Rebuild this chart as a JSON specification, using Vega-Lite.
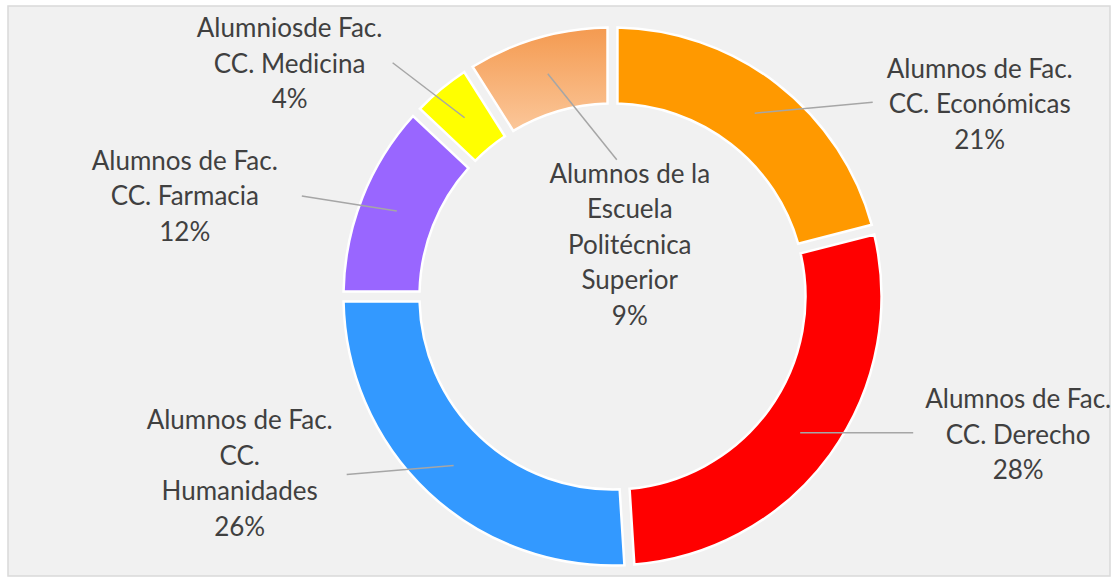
{
  "$schema": "https://vega.github.io/schema/vega-lite/v6.json",
  "width": 1102,
  "height": 570,
  "autosize": {"type": "none"},
  "padding": {"left": 8, "top": 6, "right": 7, "bottom": 2},
  "background": "white",
  "view": {"fill": "#f1f1f1", "stroke": "#d9d9d9", "strokeWidth": 1.5},
  "data": {
    "values": [
      {"orden": 1, "cat": "Alumnos de Fac. CC. Económicas", "pct": 21, "etiqueta": "Alumnos de Fac.\nCC. Económicas\n21%"},
      {"orden": 2, "cat": "Alumnos de Fac. CC. Derecho", "pct": 28, "etiqueta": "Alumnos de Fac.\nCC. Derecho\n28%"},
      {"orden": 3, "cat": "Alumnos de Fac. CC. Humanidades", "pct": 26, "etiqueta": "Alumnos de Fac.\nCC.\nHumanidades\n26%"},
      {"orden": 4, "cat": "Alumnos de Fac. CC. Farmacia", "pct": 12, "etiqueta": "Alumnos de Fac.\nCC. Farmacia\n12%"},
      {"orden": 5, "cat": "Alumniosde Fac. CC. Medicina", "pct": 4, "etiqueta": "Alumniosde Fac.\nCC. Medicina\n4%"},
      {"orden": 6, "cat": "Alumnos de la Escuela Politécnica Superior", "pct": 9, "etiqueta": "Alumnos de la\nEscuela\nPolitécnica\nSuperior\n9%"}
    ]
  },
  "layer": [
    {
      "mark": {
        "type": "arc",
        "innerRadius": 193,
        "outerRadius": 269,
        "padAngle": 0.03,
        "stroke": "white",
        "strokeWidth": 2.5,
        "x": {"expr": "width/2+53.5"},
        "y": {"expr": "height/2+5.5"}
      },
      "encoding": {
        "theta": {"field": "pct", "type": "quantitative", "stack": true},
        "order": {"field": "orden", "type": "quantitative"},
        "color": {
          "condition": {
            "test": "datum.orden == 6",
            "value": {"gradient": "linear", "x1": 0, "y1": 0, "x2": 0, "y2": 1, "stops": [{"offset": 0, "color": "#F49A50"}, {"offset": 1, "color": "#FBC79A"}]}
          },
          "field": "cat",
          "type": "nominal",
          "scale": {
            "domain": ["Alumnos de Fac. CC. Económicas", "Alumnos de Fac. CC. Derecho", "Alumnos de Fac. CC. Humanidades", "Alumnos de Fac. CC. Farmacia", "Alumniosde Fac. CC. Medicina", "Alumnos de la Escuela Politécnica Superior"],
            "range": ["#FF9900", "#FF0000", "#3399FF", "#9966FF", "#FFFF00", "#F7AE70"]
          },
          "legend": null
        }
      }
    },
    {
      "transform": [
        {"stack": "pct", "groupby": [], "sort": [{"field": "orden", "order": "ascending"}], "as": ["s0", "s1"]}
      ],
      "mark": {"type": "rule", "color": "#a6a6a6", "strokeWidth": 1.5},
      "encoding": {
        "x": {"value": {"expr": "width/2+53.5+232*sin(PI*(datum.s0+datum.s1)/100)"}},
        "y": {"value": {"expr": "height/2+5.5-232*cos(PI*(datum.s0+datum.s1)/100)"}},
        "x2": {"value": {"expr": "width/2+53.5+232*sin(PI*(datum.s0+datum.s1)/100)+[0,118,113,-107,-95,-72,69][datum.orden]"}},
        "y2": {"value": {"expr": "height/2+5.5-232*cos(PI*(datum.s0+datum.s1)/100)+[0,-11,0,9,-15,-55,86][datum.orden]"}}
      }
    },
    {
      "mark": {
        "type": "text",
        "radius": 232,
        "x": {"expr": "width/2+53.5"},
        "y": {"expr": "height/2+5.5"},
        "lineBreak": "\n",
        "font": "Lato",
        "fontSize": 26,
        "lineHeight": 35.5,
        "fill": "#404040",
        "align": "center",
        "baseline": "middle",
        "dx": {"expr": "[0,225,218,-214,-212,-175,82][datum.orden]"},
        "dy": {"expr": "[0,-43.5,-32.5,-44.25,-49.5,-88.5,101][datum.orden]"}
      },
      "encoding": {
        "theta": {"field": "pct", "type": "quantitative", "stack": true},
        "order": {"field": "orden", "type": "quantitative"},
        "text": {"field": "etiqueta", "type": "nominal"}
      }
    }
  ]
}
